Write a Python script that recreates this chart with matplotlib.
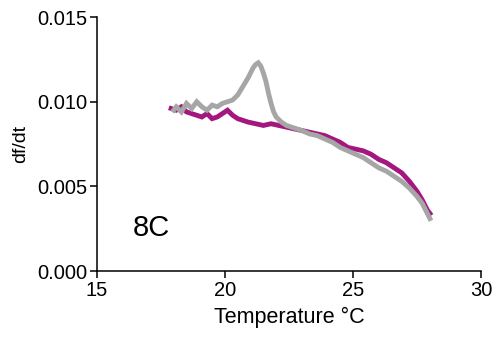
import matplotlib
matplotlib.use('Agg')
import matplotlib.pyplot as plt

plt.rcParams['font.family'] = ['Liberation Sans', 'DejaVu Sans']

# Derivative of fluorescence vs temperature, sample 8C
temp_grey = [18.0, 18.1, 18.3, 18.5, 18.7, 18.9, 19.1, 19.3, 19.5, 19.7,
             19.9, 20.1, 20.3, 20.5, 20.7, 20.9, 21.0, 21.1, 21.2, 21.3,
             21.4, 21.5, 21.6, 21.7, 21.8, 21.9, 22.0, 22.2, 22.4, 22.6,
             22.8, 23.0, 23.3, 23.6, 23.9, 24.2, 24.5, 24.8, 25.1, 25.4,
             25.7, 26.0, 26.3, 26.6, 26.9, 27.2, 27.5, 27.7, 27.9, 28.0]
dfdt_grey = [0.0095, 0.0097, 0.0094, 0.0099, 0.0096, 0.0100, 0.0097, 0.0095, 0.0098, 0.0097,
             0.0099, 0.0100, 0.0101, 0.0104, 0.0109, 0.0114, 0.0117, 0.0120, 0.0122, 0.0123,
             0.0121, 0.0117, 0.0112, 0.0105, 0.0099, 0.0094, 0.0091, 0.0088, 0.0086, 0.0085,
             0.0084, 0.0083, 0.0081, 0.0080, 0.0078, 0.0076, 0.0073, 0.0071, 0.0069, 0.0067,
             0.0064, 0.0061, 0.0059, 0.0056, 0.0053, 0.0049, 0.0044, 0.0040, 0.0034, 0.0031]

temp_mag = [17.9, 18.1, 18.3, 18.5, 18.7, 18.9, 19.1, 19.3, 19.5, 19.7,
            19.9, 20.1, 20.3, 20.5, 20.7, 20.9, 21.2, 21.5, 21.8, 22.1,
            22.4, 22.7, 23.0, 23.3, 23.6, 23.9, 24.2, 24.5, 24.8, 25.1,
            25.4, 25.7, 26.0, 26.3, 26.6, 26.9, 27.2, 27.5, 27.7, 27.9, 28.0]
dfdt_mag = [0.0096, 0.0095, 0.0097, 0.0094, 0.0093, 0.0092, 0.0091, 0.0093, 0.0090, 0.0091,
            0.0093, 0.0095, 0.0092, 0.0090, 0.0089, 0.0088, 0.0087, 0.0086, 0.0087, 0.0086,
            0.0085, 0.0084, 0.0083, 0.0082, 0.0081, 0.0080, 0.0078, 0.0076, 0.0073, 0.0072,
            0.0071, 0.0069, 0.0066, 0.0064, 0.0061, 0.0058, 0.0053, 0.0047, 0.0042, 0.0036, 0.0034]

fig = plt.figure(figsize=(4.94, 3.41), dpi=100)
ax = fig.add_axes([0.196, 0.205, 0.778, 0.745])

ax.plot(temp_mag, dfdt_mag, color='#a3177f', lw=3.5, solid_joinstyle='miter')
ax.plot(temp_grey, dfdt_grey, color='#a6a6a6', lw=3.5, solid_joinstyle='miter')

ax.set_xlim(15, 30)
ax.set_ylim(0, 0.015)
ax.set_xticks([15, 20, 25, 30])
ax.set_yticks([0, 0.005, 0.010, 0.015])
ax.set_yticklabels(['0.000', '0.005', '0.010', '0.015'])
for s in ['top', 'right']:
    ax.spines[s].set_visible(False)
for s in ['left', 'bottom']:
    ax.spines[s].set_linewidth(1.1)
ax.tick_params(direction='out', length=5, width=1.1, labelsize=14.5, pad=2)
ax.set_xlabel('Temperature °C', fontsize=15.5, labelpad=5)
ax.set_ylabel('df/dt', fontsize=14, labelpad=6)
ax.text(16.4, 0.0021, '8C', fontsize=21)

fig.savefig('out.png', dpi=100)
